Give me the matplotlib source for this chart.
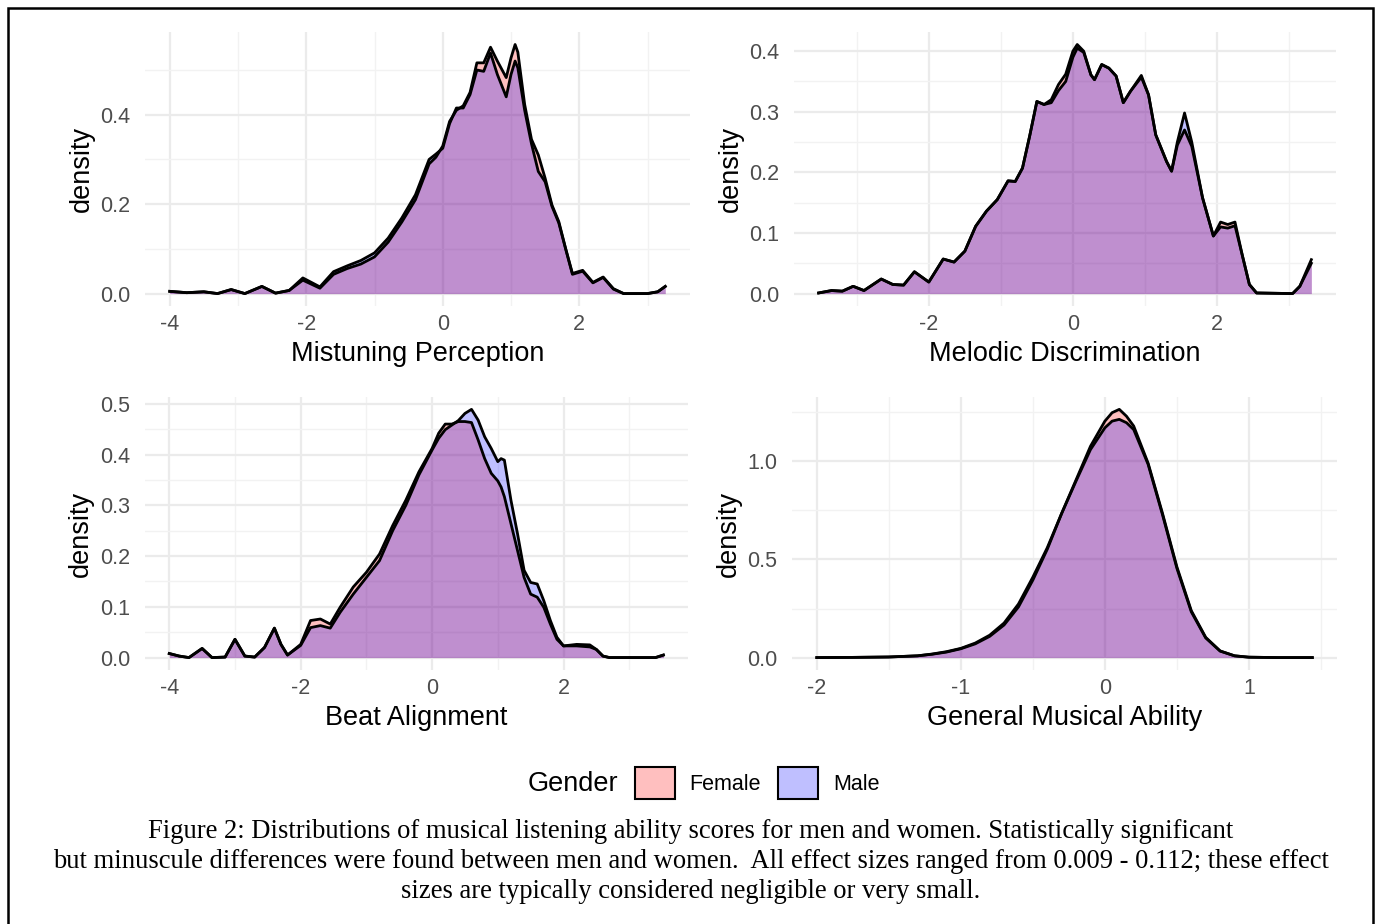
import numpy as np
import matplotlib
matplotlib.use('Agg')
import matplotlib.pyplot as plt
from matplotlib.patches import Patch, Rectangle
from matplotlib.ticker import MultipleLocator

plt.rcParams['font.family'] = ['Liberation Sans', 'DejaVu Sans']

# --- data (density estimates per gender) ---
mp_x = [-4.0, -3.75, -3.5, -3.3, -3.1, -2.9, -2.65, -2.45, -2.25, -2.05, -1.8, -1.6, -1.4, -1.2,
        -1.0, -0.8, -0.6, -0.4, -0.2, -0.1, 0.0, 0.1, 0.2, 0.3, 0.4, 0.5, 0.6, 0.7, 0.8, 0.93,
        1.0, 1.06, 1.1, 1.2, 1.3, 1.4, 1.5, 1.6, 1.7, 1.8, 1.9, 2.05, 2.2, 2.35, 2.5, 2.65,
        3.0, 3.15, 3.26]
mp_female = [0.005, 0.002, 0.004, 0.0, 0.009, 0.0, 0.016, 0.001, 0.007, 0.030, 0.012, 0.043,
             0.056, 0.066, 0.082, 0.115, 0.160, 0.210, 0.290, 0.305, 0.330, 0.385, 0.410, 0.420,
             0.450, 0.516, 0.516, 0.551, 0.520, 0.483, 0.527, 0.557, 0.540, 0.423, 0.345, 0.310,
             0.258, 0.198, 0.161, 0.101, 0.045, 0.052, 0.025, 0.037, 0.011, 0.0, 0.0, 0.004, 0.016]
mp_male = [0.005, 0.002, 0.004, 0.0, 0.009, 0.0, 0.016, 0.001, 0.007, 0.035, 0.015, 0.049,
           0.062, 0.074, 0.091, 0.124, 0.169, 0.221, 0.300, 0.312, 0.325, 0.380, 0.415, 0.415,
           0.445, 0.500, 0.497, 0.538, 0.490, 0.440, 0.490, 0.520, 0.505, 0.410, 0.335, 0.273,
           0.250, 0.195, 0.158, 0.100, 0.043, 0.050, 0.024, 0.036, 0.010, 0.0, 0.0, 0.004, 0.016]

md_x = [-3.53, -3.35, -3.2, -3.05, -2.9, -2.66, -2.5, -2.35, -2.2, -2.0, -1.8, -1.65, -1.5,
        -1.35, -1.2, -1.05, -0.9, -0.8, -0.7, -0.6, -0.5, -0.4, -0.3, -0.2, -0.1, 0.0, 0.06,
        0.15, 0.25, 0.3, 0.4, 0.5, 0.6, 0.7, 0.8, 0.95, 1.05, 1.15, 1.3, 1.37, 1.45, 1.55,
        1.65, 1.8, 1.95, 2.05, 2.15, 2.25, 2.35, 2.45, 2.55, 3.05, 3.15, 3.31]
md_female = [0.001, 0.005, 0.004, 0.012, 0.005, 0.024, 0.015, 0.014, 0.036, 0.019, 0.057, 0.052,
             0.070, 0.111, 0.136, 0.155, 0.186, 0.185, 0.207, 0.260, 0.317, 0.312, 0.320, 0.345,
             0.362, 0.400, 0.411, 0.400, 0.361, 0.353, 0.378, 0.372, 0.359, 0.315, 0.334, 0.357,
             0.328, 0.262, 0.218, 0.202, 0.245, 0.270, 0.243, 0.158, 0.095, 0.118, 0.114, 0.118,
             0.064, 0.015, 0.001, 0.0, 0.012, 0.056]
md_male = [0.001, 0.005, 0.004, 0.012, 0.005, 0.024, 0.015, 0.014, 0.036, 0.019, 0.057, 0.052,
           0.070, 0.111, 0.136, 0.155, 0.186, 0.185, 0.207, 0.260, 0.317, 0.312, 0.315, 0.335,
           0.350, 0.390, 0.405, 0.398, 0.361, 0.353, 0.378, 0.372, 0.359, 0.315, 0.334, 0.360,
           0.328, 0.262, 0.218, 0.202, 0.250, 0.298, 0.250, 0.158, 0.095, 0.110, 0.108, 0.112,
           0.064, 0.015, 0.001, 0.0, 0.012, 0.050]

ba_x = [-4.0, -3.85, -3.7, -3.5, -3.35, -3.15, -3.0, -2.85, -2.7, -2.55, -2.4, -2.3, -2.2, -2.0,
        -1.85, -1.7, -1.55, -1.4, -1.2, -1.0, -0.8, -0.6, -0.4, -0.2, 0.0, 0.1, 0.2, 0.3, 0.4,
        0.5, 0.6, 0.7, 0.8, 0.9, 1.0, 1.05, 1.1, 1.2, 1.3, 1.4, 1.5, 1.6, 1.7, 1.8, 1.9, 2.0,
        2.2, 2.4, 2.5, 2.6, 2.7, 3.4, 3.52]
ba_female = [0.008, 0.003, 0.0, 0.018, 0.0, 0.001, 0.036, 0.003, 0.001, 0.020, 0.058, 0.026,
             0.005, 0.026, 0.073, 0.076, 0.066, 0.099, 0.139, 0.168, 0.204, 0.260, 0.310, 0.366,
             0.412, 0.442, 0.460, 0.460, 0.465, 0.465, 0.463, 0.429, 0.392, 0.363, 0.348, 0.336,
             0.317, 0.264, 0.211, 0.158, 0.125, 0.119, 0.099, 0.066, 0.036, 0.023, 0.026, 0.025,
             0.016, 0.003, 0.0, 0.0, 0.005]
ba_male = [0.008, 0.003, 0.0, 0.018, 0.0, 0.001, 0.036, 0.003, 0.001, 0.020, 0.058, 0.026,
           0.005, 0.024, 0.059, 0.063, 0.058, 0.089, 0.125, 0.158, 0.191, 0.250, 0.300, 0.360,
           0.409, 0.432, 0.449, 0.458, 0.467, 0.481, 0.489, 0.468, 0.435, 0.412, 0.386, 0.392,
           0.389, 0.310, 0.244, 0.172, 0.148, 0.145, 0.112, 0.073, 0.040, 0.023, 0.023, 0.021,
           0.016, 0.003, 0.0, 0.0, 0.005]

gm_x = [-2.0, -1.75, -1.5, -1.3, -1.2, -1.1, -1.0, -0.9, -0.8, -0.7, -0.6, -0.5, -0.4, -0.3,
        -0.2, -0.1, 0.0, 0.05, 0.1, 0.15, 0.2, 0.3, 0.4, 0.5, 0.6, 0.7, 0.8, 0.9, 1.0, 1.2, 1.44]
gm_female = [0.0, 0.001, 0.003, 0.009, 0.017, 0.028, 0.045, 0.070, 0.108, 0.166, 0.258, 0.395,
             0.552, 0.735, 0.906, 1.077, 1.205, 1.248, 1.265, 1.230, 1.180, 0.991, 0.735, 0.462,
             0.239, 0.103, 0.034, 0.009, 0.002, 0.0, 0.0]
gm_male = [0.0, 0.001, 0.003, 0.009, 0.018, 0.030, 0.047, 0.074, 0.114, 0.176, 0.273, 0.410,
           0.560, 0.735, 0.900, 1.060, 1.171, 1.205, 1.214, 1.197, 1.162, 0.985, 0.728, 0.455,
           0.233, 0.100, 0.033, 0.009, 0.002, 0.0, 0.0]

panels = [
    ('Mistuning Perception', mp_x, mp_female, mp_male, 2, 0.2),
    ('Melodic Discrimination', md_x, md_female, md_male, 2, 0.1),
    ('Beat Alignment', ba_x, ba_female, ba_male, 2, 0.1),
    ('General Musical Ability', gm_x, gm_female, gm_male, 1, 0.5),
]
# axes rectangles in figure fractions
boxes = [
    [0.1049, 0.6688, 0.3944, 0.2965],
    [0.5745, 0.6688, 0.3922, 0.2965],
    [0.1046, 0.2749, 0.3933, 0.2955],
    [0.5731, 0.2749, 0.3944, 0.2955],
]

fig = plt.figure(figsize=(13.82, 9.24), dpi=100)

for (label, x, fem, male, xstep, ystep), box in zip(panels, boxes):
    ax = fig.add_axes(box)
    ax.fill_between(x, fem, color='red', alpha=0.25, lw=0)
    ax.plot(x, fem, color='black', lw=2.0, solid_joinstyle='round')
    ax.fill_between(x, male, color='blue', alpha=0.25, lw=0)
    ax.plot(x, male, color='black', lw=2.0, solid_joinstyle='round')
    ax.margins(x=0.05, y=0.05)
    ax.xaxis.set_major_locator(MultipleLocator(xstep))
    ax.xaxis.set_minor_locator(MultipleLocator(xstep / 2))
    ax.yaxis.set_major_locator(MultipleLocator(ystep))
    ax.yaxis.set_minor_locator(MultipleLocator(ystep / 2))
    ax.yaxis.set_major_formatter(plt.FormatStrFormatter('%.1f'))
    ax.xaxis.set_major_formatter(plt.FuncFormatter(lambda v, p: '%d' % round(v)))
    ax.grid(which='major', color='#EBEBEB', lw=1.6)
    ax.grid(which='minor', color='#F2F2F2', lw=1.0)
    ax.set_axisbelow(True)
    for s in ax.spines.values():
        s.set_visible(False)
    ax.tick_params(which='both', length=0, labelsize=15.5, labelcolor='#4D4D4D', pad=6)
    ax.tick_params(axis='y', pad=10.5)
    ax.set_xlabel(label, fontsize=19.5, labelpad=4)
    ax.set_ylabel('density', fontsize=19.5, labelpad=4)

# legend
handles = [Patch(facecolor=(1, 0, 0, 0.25), edgecolor='black', lw=1.5),
           Patch(facecolor=(0, 0, 1, 0.25), edgecolor='black', lw=1.5)]
fig.legend(handles, ['Female', 'Male'], loc='center', bbox_to_anchor=(0.548, 0.1526), ncol=2,
           frameon=False, fontsize=15.5, handlelength=1.85, handleheight=1.85,
           handletextpad=0.7, columnspacing=0.8)
fig.text(0.447, 0.1515, 'Gender', ha='right', va='center', fontsize=19.5)

# caption
caption = ['Figure 2: Distributions of musical listening ability scores for men and women. Statistically significant',
           'but minuscule differences were found between men and women.  All effect sizes ranged from 0.009 - 0.112; these effect',
           'sizes are typically considered negligible or very small.']
for i, line in enumerate(caption):
    fig.text(0.5, 1 - (831 + 30.5 * i) / 924, line, ha='center', va='center',
             fontsize=19.2, family='Liberation Serif')

# outer frame
fig.add_artist(Rectangle((8 / 1382, -0.01), (1373 - 8) / 1382, 1 - 8 / 924 + 0.01,
                         transform=fig.transFigure, fill=False, edgecolor='black', lw=1.8))

fig.savefig('out.png', dpi=100)
